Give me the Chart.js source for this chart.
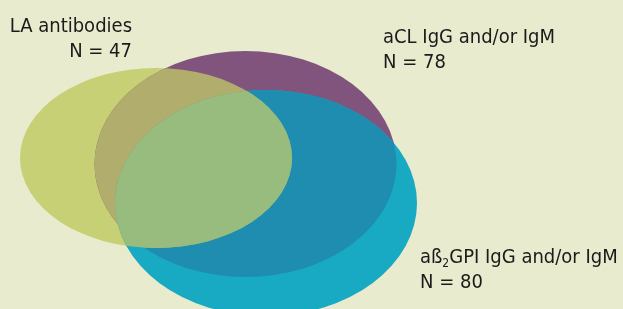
<!DOCTYPE html>
<html>
<head>
<meta charset="utf-8">
<script src="https://cdn.jsdelivr.net/npm/chart.js@4/dist/chart.umd.min.js"></script>
<style>
html,body{margin:0;padding:0;background:#e8ebcd;}
#wrap{width:623px;height:309px;position:relative;}
</style>
</head>
<body>
<div id="wrap"><canvas id="c" width="623" height="309"></canvas></div>
<script>
// Sets of the Venn diagram
const setNames  = ['LA antibodies', 'aCL IgG and/or IgM', 'aß2GPI IgG and/or IgM'];
const setCounts = [47, 78, 80];
// Ellipse geometry in data units (x: 0..623, y: 0..309 top-down)
const centerX = [156, 245.5, 266];
const centerY = [158, 164, 203];
const radiusX = [136, 151, 151];
const radiusY = [90, 113, 113];
// Label anchors (data units): [x, baseline y of first line], alignment
const labelX = [132, 383, 420];
const labelY = [32, 43, 263];
const labelAlign = ['right', 'left', 'left'];

const colBg = '#e8ebcd';
const colSingle = ['#c8d076', '#81547e', '#18a9c3'];
const colYP = '#b1ad6c';
const colPB = '#1f8db0';
const colYB = '#98bb7e';
const colYPB = '#98bb7e';
const FONT = '"Liberation Sans Narrow", "DejaVu Sans Condensed", sans-serif';

function ellPath(ctx, xs, ys, i) {
  const cx = xs.getPixelForValue(centerX[i]);
  const cy = ys.getPixelForValue(centerY[i]);
  const rx = Math.abs(xs.getPixelForValue(centerX[i] + radiusX[i]) - cx);
  const ry = Math.abs(ys.getPixelForValue(centerY[i] + radiusY[i]) - cy);
  ctx.beginPath();
  ctx.ellipse(cx, cy, rx, ry, 0, 0, Math.PI * 2);
}

const vennPlugin = {
  id: 'venn',
  beforeDraw(chart) {
    const ctx = chart.ctx;
    ctx.save();
    ctx.fillStyle = colBg;
    ctx.fillRect(0, 0, chart.width, chart.height);
    ctx.restore();
  },
  afterDatasetsDraw(chart) {
    const ctx = chart.ctx, xs = chart.scales.x, ys = chart.scales.y;
    const fill = (i, color, clips) => {
      ctx.save();
      clips.forEach(k => { ellPath(ctx, xs, ys, k); ctx.clip(); });
      ellPath(ctx, xs, ys, i);
      ctx.fillStyle = color;
      ctx.fill();
      ctx.restore();
    };
    fill(0, colSingle[0], []);
    fill(1, colSingle[1], []);
    fill(2, colSingle[2], []);
    fill(1, colYP, [0]);
    fill(2, colPB, [1]);
    fill(2, colYB, [0]);
    fill(2, colYPB, [0, 1]);

    // labels
    ctx.save();
    ctx.fillStyle = '#1b1b1b';
    ctx.textBaseline = 'alphabetic';
    const fs = 20;
    for (let i = 0; i < setNames.length; i++) {
      const x = xs.getPixelForValue(labelX[i]);
      const y = ys.getPixelForValue(labelY[i]);
      const line2 = 'N = ' + setCounts[i];
      ctx.font = fs + 'px ' + FONT;
      ctx.textAlign = labelAlign[i];
      const name = setNames[i];
      const m = name.match(/^(.*?ß)(2)(.*)$/);
      if (m) {
        ctx.textAlign = 'left';
        let cx = x;
        ctx.fillText(m[1], cx, y); cx += ctx.measureText(m[1]).width;
        ctx.font = Math.round(fs * 0.6) + 'px ' + FONT;
        ctx.fillText(m[2], cx, y + 4); cx += ctx.measureText(m[2]).width;
        ctx.font = fs + 'px ' + FONT;
        ctx.fillText(m[3], cx, y);
      } else {
        ctx.fillText(name, x, y);
      }
      ctx.textAlign = labelAlign[i];
      ctx.fillText(line2, x, y + 24.5);
    }
    ctx.restore();
  }
};

new Chart(document.getElementById('c'), {
  type: 'bubble',
  data: {
    datasets: [{
      label: 'sets',
      data: centerX.map((x, i) => ({ x: x, y: centerY[i], r: 0, n: setCounts[i] })),
      backgroundColor: 'rgba(0,0,0,0)',
      borderWidth: 0
    }]
  },
  options: {
    responsive: false,
    animation: false,
    events: [],
    layout: { padding: 0 },
    plugins: { legend: { display: false }, tooltip: { enabled: false } },
    scales: {
      x: { type: 'linear', min: 0, max: 623, display: false },
      y: { type: 'linear', min: 0, max: 309, reverse: true, display: false }
    }
  },
  plugins: [vennPlugin]
});
</script>
</body>
</html>
